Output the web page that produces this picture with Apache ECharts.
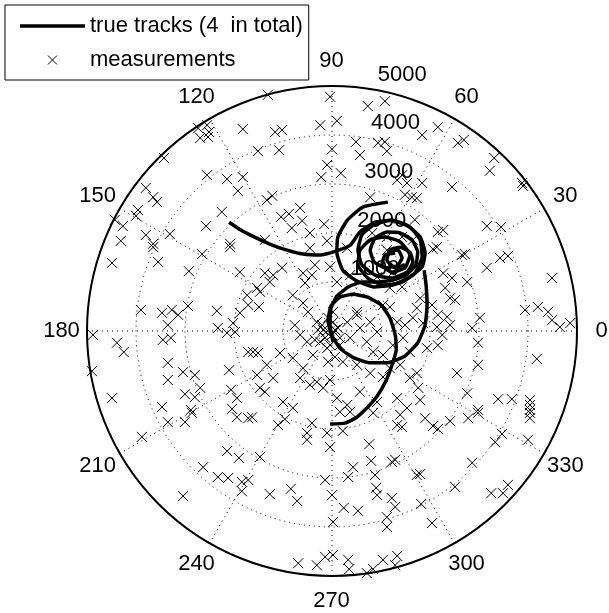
<!DOCTYPE html>
<html>
<head>
<meta charset="utf-8">
<script src="https://cdn.jsdelivr.net/npm/echarts@6/dist/echarts.min.js"></script>
<style>
html,body{margin:0;padding:0;background:#fff;}
#chart{width:609px;height:613px;}
</style>
</head>
<body>
<div id="chart"></div>
<script>
// Radial grid values and angle grid values
const radiusTicks = [1000, 2000, 3000, 4000, 5000];
const angleTicks = [0, 30, 60, 90, 120, 150, 180, 210, 240, 270, 300, 330];
const radiusLabelAngle = 82;

// True tracks, [x, y] in metres (x east, y north)
const track1 = [[-2100,2220],[-1860,2060],[-1590,1920],[-1260,1770],[-920,1650],[-590,1570],[-240,1550],[80,1630],[370,1750],[570,2020],[880,2220],[1240,2260],[1590,2120],[1800,1860],[1840,1510],[1690,1180],[1390,980],[1040,940],[730,1080],[530,1350],[570,1650],[780,1860],[1080,1920],[1390,1820],[1590,1550],[1490,1290],[1220,1200],[1020,1350],[1080,1550],[1290,1590]];
const track2 = [[1140,2630],[630,2530],[310,2260],[120,1920],[100,1590],[220,1240],[470,1040],[840,900],[1240,940],[1590,1100],[1840,1310],[1900,1590],[1800,1920],[1530,2160],[1180,2260],[840,2160],[610,1960],[530,1650],[610,1350],[880,1140],[1220,1080],[1530,1200],[1650,1410],[1590,1610],[1390,1710],[1180,1650],[1120,1450],[1290,1290],[1490,1350]];
const track3 = [[-40,-1900],[270,-1880],[490,-1770],[710,-1570],[920,-1330],[1100,-1020],[1220,-710],[1310,-390],[1290,-80],[1180,270],[1000,530],[730,690],[430,750],[160,690],[-20,510],[-80,220],[0,-100],[180,-370],[450,-550],[780,-650],[1140,-650],[1490,-510],[1750,-240],[1900,120],[1940,530],[1920,940],[1880,1240]];
const track4 = [[20,-220],[-40,120],[-20,470],[100,710],[330,900],[610,1000],[940,1000],[1240,1040],[1510,1140],[1710,1350],[1750,1610],[1630,1860],[1390,2000],[1120,2020],[880,1900],[780,1650],[860,1410],[1080,1290],[1330,1330],[1430,1490],[1350,1650],[1180,1650]];

// Measurements, [x, y] in metres
const measurements = [
[-2730,4140],[-2550,4200],[-2510,4060],[-2690,3940],[-2530,3960],[-1820,4120],[-3430,3530],[-2550,3180],[-2140,3100],[-1820,3140],[-1920,2860],[-3960,3120],[-3800,2920],[-3650,2730],[-3570,2630],[-3960,2470],[-4000,2350],[-2250,2430],[-4430,2270],[-4270,2140],[-2570,2140],[-3310,1980],[-3800,1960],[-4310,1840],[-3650,1780],[-2080,1780],
[-1310,4820],[-40,4780],[730,4590],[1080,4690],[-240,4200],[100,4290],[-1160,4060],[-1020,4100],[-1510,3670],[-1080,3690],[490,3860],[940,3840],[1080,3860],[1120,3670],[570,3590],[0,3710],[-100,3390],[-220,3140],[180,3220],[1430,3180],[1330,3080],[1530,3020],[1490,2780],[780,2730],[1630,2730],[-1220,2760],[-1330,2670],[-1040,2330],[-880,2390],[-650,2510],[-820,2100],[-610,2250],[-450,2000],[-160,2180],[-1370,1860],[-100,1840],[820,2000],[1120,1920],[1430,1920],[1650,1860],
[2160,4160],[1840,4000],[2570,3840],[2690,3900],[3310,3530],[3220,3270],[1840,3020],[2450,2940],[3880,3020],[3900,2960],[3160,2140],[3450,2120],[2160,2020],[2270,2060],[2140,1710],[1730,2710],[1690,2270],
[-4490,1390],[-3550,1410],[-3650,1710],[-2650,1570],[-2080,1710],[-2920,1220],[-1880,1200],[-3900,430],[-3470,370],[-3270,430],[-3140,330],[-2940,510],[-2350,410],[-3350,120],[-1730,730],[-1710,530],[-1880,370],[-2020,160],[-2330,60],[-2140,-40],[-1980,-20],[-4880,-80],[-4390,-240],[-4250,-430],[-3450,-180],[-3290,-140],[-3350,-650],[-3040,-840],[-2800,-900],[-3350,-1000],[-2100,-800],[-1710,-430],[-2690,-1160],[-3000,-1290],[-2800,-1350],[-4490,-1370],[-4900,-820],[-3470,-1550],[-2880,-1610],[-2060,-1200],[-1940,-1370],[-2040,-1590],
[-1370,1180],[-1200,1140],[-1020,1290],[-1270,1000],[-1470,800],[-1530,880],[-1490,490],[-800,730],[-590,1180],[-410,1140],[-550,980],[-350,1350],[-40,1310],[-450,1690],[310,1690],[100,1000],[370,1140],[920,1100],[1240,1200],[1120,1650],[1180,880],[1430,900],[1040,530],[1180,490],[1330,180],[1490,120],[1650,270],[-1610,-430],[-1510,-450],[-1060,-450],[-760,120],[-650,-80],[-510,-220],[-590,570],[-490,390],[-310,180],[-180,20],[0,-80],[120,60],[310,180],[510,330],[370,-140],[160,-290],[-100,-350],[-240,-220],[60,-530],[220,-630],[510,-690],[840,-430],[1040,-490],[710,-220],[570,60],[780,180],[920,-20],[1240,-290],[1450,-140],[1590,-430],[-1330,-690],[-1200,-960],[-1470,-1160],[-1370,-1240],[-800,-550],[-590,-760],[-650,-960],[-450,-1100],[-310,-1040],[-180,-1160],[-40,-1000],[100,-1370],[310,-1510],[570,-1240],[780,-860],[1040,-940],[1180,-760],[1390,-690],[1590,-960],[920,-1450],[1330,-1370],[1530,-1570],[-1000,-1450],[-800,-1570],[-1530,-900],[-390,-490],[-80,-630],[510,390],[20,390],
[-200,120],[-80,270],[60,20],[-140,-140],[-290,20],[-40,-290],[160,-140],[-350,-180],[-120,-20],[20,180],
[2060,1670],[2650,1550],[2710,1570],[3430,1490],[3590,1530],[3160,1290],[4490,1080],[2270,1180],[2450,1080],[2310,880],[2760,1000],[2410,670],[2510,630],[1800,670],[2040,530],[1730,470],[2160,330],[2350,290],[1860,160],[2140,80],[2410,120],[3020,270],[2860,60],[3940,430],[4200,490],[4410,390],[4490,220],[4650,80],[4860,160],[2250,-80],[2160,-290],[1940,-350],[2980,-240],[2980,-690],[4180,-570],[2550,-860],[1730,-860],[1760,-1160],[2760,-1270],[1800,-1410],[3390,-1390],[3670,-1390],[4040,-1410],[4040,-1610],[2980,-1610],
[-4590,-2080],[-3880,-2160],[-3350,-1860],[-3000,-1860],[-2860,-1670],[-1940,-1760],[-1710,-1780],[-4040,-3000],[-3040,-3370],[-2630,-2780],[-2330,-2980],[-2120,-3000],[-2140,-2450],[-1900,-2590],[-1840,-3080],[-1710,-3040],[-1840,-3270],
[-1630,-1760],[-1100,-1920],[-960,-1800],[-410,-1880],[-510,-2080],[-510,-2220],[-100,-2080],[220,-2040],[-40,-2370],[760,-2310],[1330,-1920],[1430,-1960],[-1470,-2570],[800,-2650],[1220,-2670],[1290,-2630],[430,-2780],[330,-2980],[-140,-3040],[880,-2940],[900,-3200],[920,-3350],[-1270,-3330],[-840,-3220],[-710,-3470],[0,-3350],[240,-3610],[530,-3670],[1220,-3410],[1290,-3590],[1120,-3800],[1120,-4000],[20,-3900],[1730,-2940],[-690,-4740],[-310,-4780],[-140,-4610],[20,-4570],[330,-4670],[350,-4860],[710,-4940],[840,-4860],[1040,-4670],[1330,-4590],[1290,-4780],[370,-1650],[160,-1650],[840,-1670],[1390,-1710],
[1900,-1780],[2060,-1940],[2160,-2000],[2410,-1840],[2780,-1780],[2980,-1670],[4040,-1510],[4040,-1670],[4040,-1780],[3330,-2270],[3470,-2100],[4000,-2220],[2860,-2690],[2510,-3180],[1800,-2920],[3250,-3310],[3490,-3310],[3590,-3140],[1820,-3530],[2040,-3920]
];

function toPolar(p) {
  const r = Math.hypot(p[0], p[1]);
  let a = Math.atan2(p[1], p[0]) * 180 / Math.PI;
  if (a < 0) a += 360;
  return [r, a];
}

const FONT = '"Liberation Sans", Arial, Helvetica, sans-serif';
const FS = 22;
const trackName = 'true tracks (4  in total)';
const measName = 'measurements';
const crossPath = 'path://M0,0L10,10M10,0L0,10';
const rMax = radiusTicks[radiusTicks.length - 1];
const angleLabelGap = 25; // px beyond outer circle to label centre

const chart = echarts.init(document.getElementById('chart'), null, {renderer: 'canvas'});

function trackSeries(t) {
  return {
    name: trackName, type: 'line', coordinateSystem: 'polar', polarIndex: 0,
    data: t.map(toPolar), symbol: 'none', showSymbol: false, smooth: 0.15, z: 5,
    lineStyle: {color: '#000', width: 3.5}, itemStyle: {color: '#000'}
  };
}

const option = {
  backgroundColor: '#fff',
  animation: false,
  textStyle: {fontFamily: FONT},
  legend: {
    left: 5, top: 5, orient: 'vertical',
    data: [
      {name: trackName, icon: 'path://M0,0L65,0L65,3.5L0,3.5Z'},
      {name: measName, icon: crossPath,
        itemStyle: {color: 'rgba(0,0,0,0)', borderColor: '#000', borderWidth: 1}}
    ],
    padding: [10, 6, 9, 15], itemGap: 12,
    itemWidth: 65, itemHeight: 9,
    borderColor: '#000', borderWidth: 1, borderRadius: 0,
    backgroundColor: '#fff', z: 10,
    textStyle: {fontSize: FS, color: '#000', fontFamily: FONT}
  },
  polar: {center: [332, 331], radius: 245},
  angleAxis: {
    polarIndex: 0, type: 'value', min: 0, max: 360, interval: angleTicks[1] - angleTicks[0],
    startAngle: 0, clockwise: false,
    axisLine: {show: true, lineStyle: {color: '#000', width: 2}},
    axisTick: {show: false},
    axisLabel: {show: false},
    splitLine: {show: true, lineStyle: {color: '#000', width: 1, type: [1, 4]}}
  },
  radiusAxis: {
    polarIndex: 0, type: 'value', min: 0, max: rMax, interval: radiusTicks[0],
    axisLine: {show: false}, axisTick: {show: false}, axisLabel: {show: false},
    splitLine: {show: true, lineStyle: {color: '#000', width: 1, type: [1, 4]}}
  },
  series: [
    trackSeries(track1), trackSeries(track2), trackSeries(track3), trackSeries(track4),
    {
      name: measName, type: 'scatter', coordinateSystem: 'polar', polarIndex: 0,
      data: measurements.map(toPolar), symbol: crossPath, symbolSize: 10, z: 4,
      itemStyle: {color: 'rgba(0,0,0,0)', borderColor: '#000', borderWidth: 1, opacity: 1}
    },
    {
      name: 'radius labels', type: 'scatter', coordinateSystem: 'polar', polarIndex: 0,
      data: radiusTicks.map(v => ({value: [v, radiusLabelAngle], label: {formatter: '  ' + v}})),
      symbolSize: 1, z: 3, silent: true,
      itemStyle: {color: 'rgba(0,0,0,0)', opacity: 1},
      label: {show: true, position: [0, 0], offset: [0, -2], align: 'left', verticalAlign: 'bottom',
        fontSize: FS, color: '#000', fontFamily: FONT, opacity: 1}
    },
    {
      name: 'angle labels', type: 'scatter', coordinateSystem: 'polar', polarIndex: 0,
      data: angleTicks.map(a => {
        const rad = a * Math.PI / 180;
        return {value: [rMax, a], label: {formatter: String(a),
          offset: [angleLabelGap * Math.cos(rad), -angleLabelGap * Math.sin(rad)]}};
      }),
      symbolSize: 1, z: 3, silent: true,
      itemStyle: {color: 'rgba(0,0,0,0)', opacity: 1},
      label: {show: true, position: [0, 0], align: 'center', verticalAlign: 'middle',
        fontSize: FS, color: '#000', fontFamily: FONT, opacity: 1}
    }
  ]
};
chart.setOption(option);
</script>
</body>
</html>
